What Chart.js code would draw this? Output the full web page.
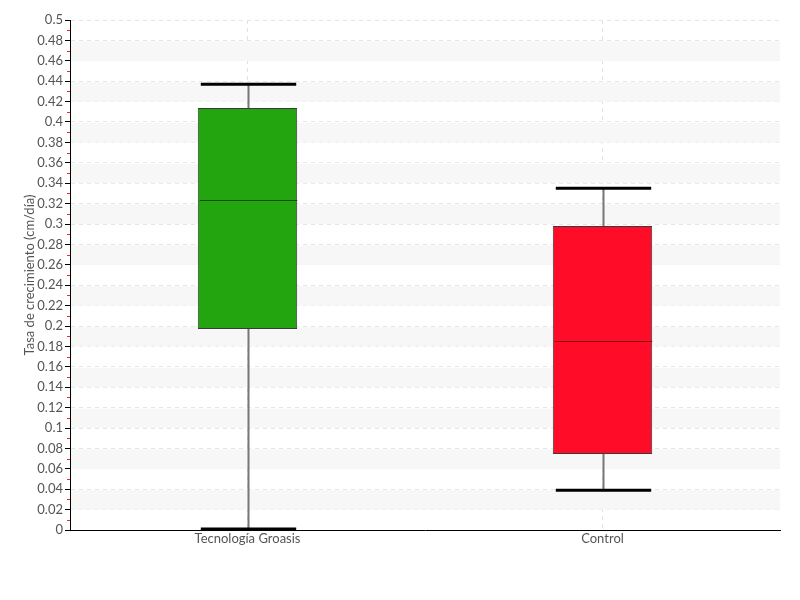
<!DOCTYPE html>
<html>
<head>
<meta charset="utf-8">
<script src="https://cdn.jsdelivr.net/npm/chart.js@4.4.0/dist/chart.umd.min.js"></script>
<style>
  html, body { margin: 0; padding: 0; background: #fff; }
  #wrap { width: 800px; height: 600px; }
</style>
</head>
<body>
<div id="wrap"><canvas id="boxChart"></canvas></div>
<script>
// Box plot data
const categories = ['Tecnología Groasis', 'Control'];
const whiskerLow = [0.001, 0.039];
const q1Values = [0.197, 0.0745];
const medianValues = [0.3235, 0.185];
const q3Values = [0.4137, 0.298];
const whiskerHigh = [0.437, 0.335];
const boxColors = ['#22a50e', '#ff0c28'];
const medianColors = ['#0b4d05', '#8a0010'];

const fontFamily = "Lato, 'Open Sans', sans-serif";

// shaded bands, red minor ticks
const bandsPlugin = {
  id: 'bands',
  beforeDatasetsDraw(chart) {
    const { ctx, chartArea, scales: { y } } = chart;
    ctx.save();
    ctx.fillStyle = '#f7f7f7';
    for (let k = 1; k < 25; k += 2) {
      const top = y.getPixelForValue((k + 1) * 0.02);
      const bottom = y.getPixelForValue(k * 0.02);
      ctx.fillRect(chartArea.left + 1, top + 1, chartArea.right - chartArea.left - 1, bottom - top - 1);
    }
    ctx.restore();
  },
  afterDraw(chart) {
    const { ctx, chartArea, scales: { y } } = chart;
    ctx.save();
    ctx.strokeStyle = '#ff2020';
    ctx.lineWidth = 1;
    for (let k = 1; k < 50; k += 2) {
      const py = Math.round(y.getPixelForValue(k * 0.01)) + 0.5;
      ctx.beginPath();
      ctx.moveTo(chartArea.left - 3, py);
      ctx.lineTo(chartArea.left, py);
      ctx.stroke();
    }
    ctx.restore();
  }
};

// whiskers and medians
const whiskerPlugin = {
  id: 'whiskers',
  afterDatasetsDraw(chart) {
    const { ctx, scales: { x, y } } = chart;
    const meta = chart.getDatasetMeta(0);
    ctx.save();
    meta.data.forEach((bar, i) => {
      const cx = Math.round(x.getPixelForValue(i)) + 0.5;
      const half = bar.width / 2;
      // stems
      ctx.strokeStyle = '#777';
      ctx.lineWidth = 2;
      ctx.beginPath();
      ctx.moveTo(cx, y.getPixelForValue(q3Values[i]));
      ctx.lineTo(cx, y.getPixelForValue(whiskerHigh[i]));
      ctx.moveTo(cx, y.getPixelForValue(q1Values[i]));
      ctx.lineTo(cx, y.getPixelForValue(whiskerLow[i]));
      ctx.stroke();
      // caps
      ctx.strokeStyle = '#000';
      ctx.lineWidth = 3;
      ctx.beginPath();
      [whiskerHigh[i], whiskerLow[i]].forEach(v => {
        const py = y.getPixelForValue(v);
        ctx.moveTo(cx - half + 2, py);
        ctx.lineTo(cx + half - 2, py);
      });
      ctx.stroke();
      // median
      ctx.strokeStyle = medianColors[i];
      ctx.lineWidth = 1;
      ctx.beginPath();
      const my = Math.round(y.getPixelForValue(medianValues[i])) + 0.5;
      ctx.moveTo(cx - half + 1, my);
      ctx.lineTo(cx + half - 1, my);
      ctx.stroke();
    });
    ctx.restore();
  }
};

const ctx = document.getElementById('boxChart').getContext('2d');
new Chart(ctx, {
  type: 'bar',
  data: {
    labels: categories,
    datasets: [{
      data: q1Values.map((q, i) => [q, q3Values[i]]),
      backgroundColor: boxColors,
      borderColor: '#3a3a3a',
      borderWidth: 1,
      borderSkipped: false,
      categoryPercentage: 1,
      barPercentage: 0.28
    }]
  },
  options: {
    responsive: true,
    maintainAspectRatio: false,
    animation: false,
    layout: {
      padding: { top: 20, right: 20, bottom: 45, left: 22 }
    },
    scales: {
      x: {
        afterFit(scale) { scale.height = 25; },
        grid: { color: '#e2e2e2', drawTicks: false, offset: false },
        border: { color: '#000', width: 1, dash: [4, 4] },
        ticks: { color: '#555', padding: 1, font: { family: fontFamily, size: 13 } }
      },
      y: {
        min: 0,
        max: 0.5,
        afterFit(scale) { scale.width = 48; },
        ticks: {
          stepSize: 0.02,
          color: '#555',
          padding: 2,
          font: { family: fontFamily, size: 13 },
          callback: v => String(Math.round(v * 100) / 100)
        },
        grid: { color: '#e6e6e6', tickColor: '#000', tickLength: 5 },
        border: { color: '#000', width: 1, dash: [4, 4] },
        title: {
          display: true,
          text: 'Tasa de crecimiento (cm/día)',
          color: '#555',
          padding: 0,
          font: { family: fontFamily, size: 13 }
        }
      }
    },
    plugins: {
      legend: { display: false },
      tooltip: { enabled: false }
    }
  },
  plugins: [bandsPlugin, whiskerPlugin]
});
</script>
</body>
</html>
